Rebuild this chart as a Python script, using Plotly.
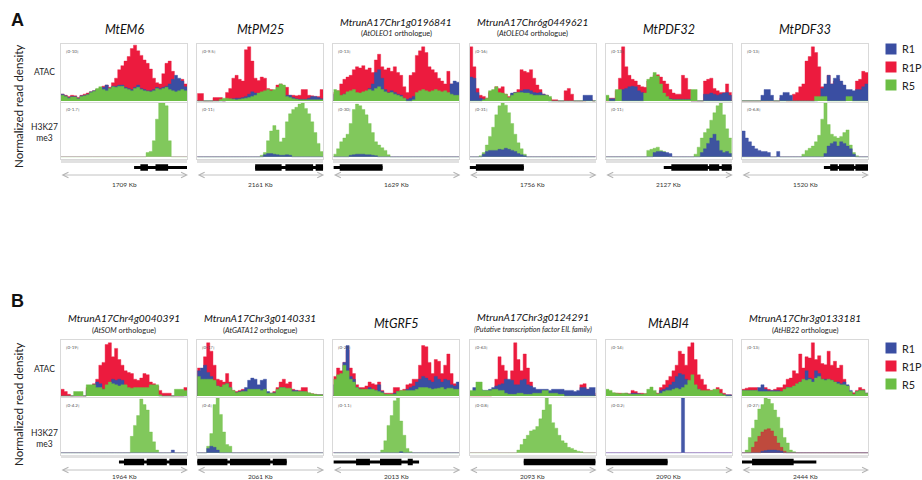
import plotly.graph_objects as go

# ---------------------------------------------------------------- data
LEGEND_LABELS = ["R1", "R1P", "R5"]
SERIES_COLORS = ["#3a4ea2", "#ec1b3e", "#6cbe45"]

TITLES = ["MtEM6", "MtPM25", "MtrunA17Chr1g0196841", "MtrunA17Chr6g0449621", "MtPDF32", "MtPDF33",
          "MtrunA17Chr4g0040391", "MtrunA17Chr3g0140331", "MtGRF5", "MtrunA17Chr3g0124291", "MtABI4",
          "MtrunA17Chr3g0133181"]
SUBTITLES = ["", "", "(<i>AtOLEO1</i> orthologue)", "(<i>AtOLEO4</i> orthologue)", "", "",
             "(<i>AtSOM</i> orthologue)", "(<i>AtGATA12</i> orthologue)", "",
             "<i>(Putative transcription factor EIL family)</i>", "", "(<i>AtHB22</i> orthologue)"]
SCALE_LABELS = ["1709 Kb", "2161 Kb", "1629 Kb", "1756 Kb", "2127 Kb", "1520 Kb",
                "1964 Kb", "2061 Kb", "2013 Kb", "2093 Kb", "2090 Kb", "2444 Kb"]
ATAC_RANGES = ["[0-10]", "[0-9.5]", "[0-13]", "[0-16]", "[0-13]", "[0-13]",
               "[0-19]", "[0-17]", "[0-22]", "[0-63]", "[0-14]", "[0-13]"]
H3_RANGES = ["[0-1.7]", "[0-11]", "[0-30]", "[0-31]", "[0-11]", "[0-6.8]",
             "[0-4.2]", "[0-4]", "[0-1.1]", "[0-0.8]", "[0-0.2]", "[0-27]"]

# ATAC signal (percent of track range), 40 bins across each window
A1_ATAC_R1P = [12,10,8,10,9,6,10,12,14,16, 18,20,22,26,28,24,32,40,55,62, 70,78,92,98,88,80,72,66,56,40, 32,30,48,66,70,52,36,34,38,30]
A1_ATAC_R1 = [12,9,6,8,8,5,9,10,12,16, 18,20,18,24,28,22,26,26,28,28, 24,22,20,24,28,22,20,18,18,20, 24,22,24,26,30,38,45,40,35,25]
A1_ATAC_R5 = [10,8,5,7,7,4,8,9,11,15, 17,22,25,20,18,22,25,24,26,26, 22,20,18,22,24,20,18,17,16,18, 22,20,22,24,20,18,16,18,20,18]

A2_ATAC_R1P = [13,13,0,0,0,6,6,6,0,15, 22,40,45,38,35,90,95,70,40,36, 42,40,22,20,18,28,30,25,24,10, 10,9,10,20,20,10,9,8,8,20]
A2_ATAC_R1 = [0,0,0,0,0,0,0,0,0,2, 3,4,5,5,6,8,12,16,14,8, 6,5,5,4,4,4,5,6,10,10, 6,4,3,3,3,5,8,8,6,4]
A2_ATAC_R5 = [0,0,0,0,0,0,0,3,5,5, 4,3,2,3,4,5,6,8,10,14, 16,18,20,18,20,24,30,28,8,6, 4,3,2,2,2,2,2,2,2,2]

A3_ATAC_R1P = [15,18,30,38,42,45,55,60,58,62, 55,58,50,72,82,60,55,58,52,60, 50,45,25,15,45,50,80,88,95,85, 60,55,50,40,35,30,52,30,22,20]
A3_ATAC_R1 = [12,10,8,12,14,15,12,10,12,14, 16,22,30,50,55,40,20,15,18,15, 12,10,5,3,5,8,10,12,14,12, 10,12,14,12,10,10,12,30,35,33]
A3_ATAC_R5 = [20,18,10,12,16,18,20,15,14,16, 18,20,18,22,25,20,16,14,15,12, 10,8,5,0,0,2,15,18,20,18, 16,18,20,18,16,18,15,12,10,10]

A4_ATAC_R1P = [95,60,22,10,8,5,15,18,25,22, 25,12,8,12,15,20,55,52,50,55, 40,28,20,12,10,5,2,2,0,0, 18,22,12,0,0,0,0,2,2,0]
A4_ATAC_R1 = [42,40,15,5,3,2,3,4,5,4, 5,6,5,14,15,15,18,20,20,18, 15,14,15,12,10,0,0,0,0,0, 0,0,0,0,0,0,10,10,10,0]
A4_ATAC_R5 = [0,0,0,0,2,5,18,20,25,15, 14,12,6,10,14,15,15,14,14,12, 10,10,10,10,10,8,0,0,0,0, 0,0,0,0,0,0,0,0,0,0]

A5_ATAC_R1P = [0,5,5,18,40,95,60,45,38,35, 28,25,24,35,40,45,46,42,35,30, 20,14,12,12,45,40,20,0,0,0, 0,35,38,40,22,18,15,15,30,15]
A5_ATAC_R1 = [3,4,4,2,18,20,22,25,26,25, 18,15,12,8,8,8,8,8,8,6, 4,3,3,3,3,3,3,0,0,0, 0,12,12,14,12,10,12,14,15,10]
A5_ATAC_R5 = [10,0,0,20,20,0,0,0,0,0, 0,0,14,38,42,50,44,30,14,8, 3,2,2,2,2,2,2,20,20,0, 0,0,0,0,0,0,0,0,0,0]

A6_ATAC_R1P = [0,0,0,0,0,0,0,0,0,0, 0,0,5,5,0,0,12,15,25,30, 70,78,95,85,60,25,25,45,30,35, 38,30,20,15,15,12,35,38,52,50]
A6_ATAC_R1 = [0,0,0,0,0,0,10,20,20,10, 0,0,10,15,15,10,0,0,0,0, 0,0,0,0,5,22,30,45,30,40, 45,35,28,20,20,18,20,20,25,30]
A6_ATAC_R5 = [0,0,0,0,0,0,0,0,0,0, 0,0,0,0,0,0,0,0,0,0, 0,0,0,8,8,8,8,0,0,0, 0,0,0,8,8,0,0,0,0,0]

B1_ATAC_R1P = [12,8,3,0,0,0,0,0,15,18, 22,30,55,60,92,95,70,85,65,55, 45,42,40,30,28,32,40,38,25,22, 18,10,5,5,5,0,0,0,0,15]
B1_ATAC_R1 = [0,0,0,0,0,0,0,0,10,15, 20,25,22,12,10,15,30,28,30,28, 15,8,6,5,5,5,5,5,5,5, 3,0,0,0,0,0,0,0,0,0]
B1_ATAC_R5 = [0,0,0,0,8,8,8,0,20,20, 20,15,15,12,20,25,22,20,18,20, 20,15,14,15,15,15,15,15,20,20, 20,2,0,0,0,0,12,12,12,10]

B2_ATAC_R1P = [50,42,70,95,80,55,30,28,25,40, 25,10,8,10,12,12,12,14,12,10, 10,12,6,5,8,15,25,30,22,25, 12,10,10,15,15,5,4,3,2,2]
B2_ATAC_R1 = [45,50,55,42,35,25,18,16,18,22, 15,8,6,8,10,15,28,32,30,20, 28,30,8,5,6,10,15,15,12,12, 10,10,8,8,6,4,3,2,2,2]
B2_ATAC_R5 = [35,30,30,30,30,28,18,16,20,22, 15,10,6,7,8,8,12,12,12,12, 10,12,5,5,5,12,15,15,14,14, 8,8,8,8,8,6,4,3,2,2]

B3_ATAC_R1P = [35,50,45,60,82,50,40,20,15,15, 18,25,22,20,25,10,5,5,5,15, 15,10,12,20,22,30,30,55,90,88, 60,40,65,62,40,55,75,40,22,20]
B3_ATAC_R1 = [20,25,35,60,90,35,30,15,12,10, 10,15,12,10,20,8,3,2,2,5, 8,8,8,12,15,18,25,30,35,32, 28,25,35,30,25,30,28,20,18,25]
B3_ATAC_R5 = [30,38,40,55,45,30,25,15,12,12, 12,12,12,10,8,6,3,3,3,3, 8,10,10,10,10,10,12,15,15,15, 14,12,13,14,15,12,14,14,12,12]

B4_ATAC_R1P = [0,0,0,0,0,0,0,10,30,70, 55,45,25,45,95,65,45,75,50,25, 10,5,5,5,5,5,3,3,3,3, 3,5,5,5,5,20,22,12,5,5]
B4_ATAC_R1 = [5,15,15,12,10,10,12,15,18,20, 22,30,30,28,20,20,28,30,20,18, 15,12,12,12,12,10,12,12,12,12, 10,10,10,8,10,15,15,12,15,15]
B4_ATAC_R5 = [10,10,25,25,10,10,10,12,12,10, 10,5,3,3,3,5,5,3,3,3, 5,5,5,10,10,5,5,5,3,3, 0,0,0,0,0,0,0,0,0,0]

B5_ATAC_R1P = [8,6,5,5,5,4,5,4,10,8, 5,5,4,5,8,6,5,15,20,28, 35,45,55,80,75,55,88,95,65,38, 30,20,12,10,10,15,12,5,2,2]
B5_ATAC_R1 = [5,4,4,3,3,3,4,3,5,5, 4,3,3,3,5,4,3,10,12,15, 20,25,35,40,38,30,22,20,18,12, 8,6,5,5,5,5,4,2,2,2]
B5_ATAC_R5 = [12,10,6,5,4,5,5,3,3,3, 3,3,4,12,16,10,4,5,8,10, 10,12,14,12,15,20,28,38,20,12, 10,10,10,10,12,12,5,2,0,0]

B6_ATAC_R1P = [12,14,15,15,15,10,10,15,12,10, 12,15,15,20,30,32,45,40,75,50, 70,68,95,65,72,58,56,80,55,62, 50,55,30,18,6,6,10,15,12,5]
B6_ATAC_R1 = [10,10,10,10,10,15,20,12,10,10, 10,10,8,8,15,15,15,20,25,28, 45,32,30,45,40,30,30,30,28,25, 25,22,25,20,10,3,8,10,10,5]
B6_ATAC_R5 = [10,10,10,10,10,8,8,8,8,8, 8,8,8,12,15,15,18,22,25,30, 28,30,25,32,35,30,28,30,28,25, 22,20,20,18,8,3,8,10,10,5]

# H3K27me3 signal (percent of track range)
A1_H3_R5 = [0,0,0,0,0,0,0,0,0,0, 0,0,0,0,0,0,0,0,0,0, 0,0,0,0,0,0,0,8,10,30, 70,100,100,95,30,0,0,0,0,0]
A1_H3_R1P = []
A1_H3_R1 = []
A2_H3_R5 = [0,0,0,0,0,0,0,0,0,0, 0,0,0,0,0,0,0,0,0,0, 3,8,30,48,58,50,28,35,65,80, 88,92,98,100,90,80,65,45,25,10]
A2_H3_R1P = []
A2_H3_R1 = [0,0,0,0,0,0,0,0,0,0, 0,0,0,0,0,0,0,0,0,0, 0,4,6,6,5,4,3,3,4,3, 0,0,0,0,0,0,0,0,0,0]
A3_H3_R5 = [5,15,28,35,42,62,88,98,95,88, 78,62,45,28,22,17,12,4,0,0, 0,0,0,0,0,0,0,0,0,0, 0,0,0,0,0,0,0,0,0,0]
A3_H3_R1P = []
A3_H3_R1 = [0,0,0,0,0,3,4,5,5,5, 4,4,3,2,0,0,0,0,0,0, 0,0,0,0,0,0,0,0,0,0, 0,0,0,0,0,0,0,0,0,0]
A4_H3_R5 = [0,0,0,2,8,22,38,55,78,95, 100,96,82,62,42,26,15,5,0,0, 0,0,0,0,0,0,0,0,0,0, 0,0,0,0,0,0,0,0,0,0]
A4_H3_R1P = []
A4_H3_R1 = [0,0,0,0,5,10,12,12,12,14, 13,16,14,12,10,6,4,2,0,0, 0,0,0,0,0,0,0,0,0,0, 0,0,0,0,0,0,0,0,0,0]
A5_H3_R5 = [0,0,0,0,0,0,0,0,0,0, 0,0,0,12,14,16,18,12,10,4, 0,0,0,0,0,0,0,0,5,18, 35,45,52,68,82,95,100,78,52,35]
A5_H3_R1P = []
A5_H3_R1 = [0,0,0,0,0,0,0,0,0,0, 0,0,0,0,0,8,10,10,9,8, 6,0,0,0,0,0,0,0,0,0, 8,15,25,35,42,30,12,8,10,6]
A6_H3_R5 = [0,0,0,0,0,0,0,0,0,0, 0,0,0,0,0,0,0,0,0,5, 12,16,20,28,40,70,100,60,42,38, 35,38,45,50,22,8,2,0,0,0]
A6_H3_R1P = []
A6_H3_R1 = [48,35,28,20,15,12,10,10,8,0, 0,10,0,0,0,0,0,0,0,0, 0,0,0,0,0,0,6,20,25,28, 20,28,25,20,15,5,0,0,0,0]

B1_H3_R5 = [0,0,0,0,0,0,0,0,0,0, 0,0,0,0,0,0,0,0,0,0, 0,0,30,50,68,98,88,78,38,20, 5,0,0,0,0,0,0,0,0,0]
B1_H3_R1P = []
B1_H3_R1 = [0,0,0,0,0,0,0,0,0,0, 0,0,0,0,0,0,0,0,0,0, 0,0,0,0,0,0,0,0,0,0, 0,0,0,0,0,5,0,0,0,0]
B2_H3_R5 = [0,0,0,12,35,88,100,70,38,15, 12,0,0,0,0,0,0,0,0,0, 0,0,0,0,0,0,0,0,0,0, 0,0,0,0,0,0,0,0,0,0]
B2_H3_R1P = []
B2_H3_R1 = [0,0,0,8,12,10,5,0,0,0, 0,0,0,0,0,0,0,0,0,0, 0,0,0,0,0,0,0,0,0,0, 0,0,0,0,0,0,0,0,0,0]
B3_H3_R5 = [0,0,0,0,0,0,0,0,0,0, 0,0,0,0,0,5,22,50,68,95, 100,58,32,8,2,0,0,0,0,0, 0,0,0,0,0,0,0,0,0,0]
B3_H3_R1P = []
B3_H3_R1 = [0,0,0,0,0,0,0,0,0,0, 0,0,0,0,0,0,0,0,0,0, 0,2,0,0,0,0,0,0,0,0, 0,0,0,0,0,0,0,0,0,0]
B4_H3_R5 = [0,0,0,0,0,0,0,0,0,0, 0,0,0,0,0,5,15,25,32,40, 42,48,62,78,100,88,55,45,32,22, 18,10,8,5,3,2,0,0,0,0]
B4_H3_R1P = []
B4_H3_R1 = []
B5_H3_R5 = []
B5_H3_R1P = []
B5_H3_R1 = [0,0,0,0,0,0,0,0,0,0, 0,0,0,0,0,0,0,0,0,0, 0,0,0,0,100,0,0,0,0,0, 0,0,0,0,0,0,0,0,0,0]
B6_H3_R5 = [0,5,28,45,60,80,88,100,98,90, 78,65,45,28,18,5,2,0,0,0, 0,0,0,0,0,0,0,0,0,0, 0,0,0,0,0,0,0,0,0,0]
B6_H3_R1P = [0,0,0,10,20,30,38,42,44,40, 30,18,10,3,0,0,0,0,0,0, 0,0,0,0,0,0,0,0,0,0, 0,0,0,0,0,0,0,0,0,0]
B6_H3_R1 = [0,0,0,0,0,0,3,4,5,5, 5,4,3,0,0,0,0,0,0,0, 0,0,0,0,0,0,0,0,0,0, 0,0,0,0,0,0,0,0,0,0]

# gene models (fraction of window): span and thick blocks
GENE_SPANS = [[0.58, 1.0], [0.46, 1.0], [0.0, 0.39], [0.0, 0.43], [0.46, 1.0], [0.65, 1.0],
              [0.46, 1.0], [0.0, 0.71], [0.0, 0.68], [0.43, 1.0], [0.0, 0.49], [0.0, 0.59]]
GENE_EXONS = [[[0.63, 0.69], [0.75, 0.85]],
              [[0.46, 0.67], [0.70, 0.92], [0.94, 1.0]],
              [[0.05, 0.39]],
              [[0.05, 0.43]],
              [[0.52, 0.81], [0.82, 0.90], [0.92, 1.0]],
              [[0.70, 0.76], [0.77, 0.89], [0.90, 1.0]],
              [[0.50, 0.66], [0.68, 0.84], [0.86, 1.0]],
              [[0.0, 0.24], [0.26, 0.58], [0.60, 0.71]],
              [[0.18, 0.29], [0.37, 0.54], [0.59, 0.63]],
              [[0.43, 1.0]],
              [[0.0, 0.49]],
              [[0.08, 0.41]]]

ATAC_TRACKS = [(A1_ATAC_R1, A1_ATAC_R1P, A1_ATAC_R5), (A2_ATAC_R1, A2_ATAC_R1P, A2_ATAC_R5),
               (A3_ATAC_R1, A3_ATAC_R1P, A3_ATAC_R5), (A4_ATAC_R1, A4_ATAC_R1P, A4_ATAC_R5),
               (A5_ATAC_R1, A5_ATAC_R1P, A5_ATAC_R5), (A6_ATAC_R1, A6_ATAC_R1P, A6_ATAC_R5),
               (B1_ATAC_R1, B1_ATAC_R1P, B1_ATAC_R5), (B2_ATAC_R1, B2_ATAC_R1P, B2_ATAC_R5),
               (B3_ATAC_R1, B3_ATAC_R1P, B3_ATAC_R5), (B4_ATAC_R1, B4_ATAC_R1P, B4_ATAC_R5),
               (B5_ATAC_R1, B5_ATAC_R1P, B5_ATAC_R5), (B6_ATAC_R1, B6_ATAC_R1P, B6_ATAC_R5)]
H3_TRACKS = [(A1_H3_R1, A1_H3_R1P, A1_H3_R5), (A2_H3_R1, A2_H3_R1P, A2_H3_R5),
             (A3_H3_R1, A3_H3_R1P, A3_H3_R5), (A4_H3_R1, A4_H3_R1P, A4_H3_R5),
             (A5_H3_R1, A5_H3_R1P, A5_H3_R5), (A6_H3_R1, A6_H3_R1P, A6_H3_R5),
             (B1_H3_R1, B1_H3_R1P, B1_H3_R5), (B2_H3_R1, B2_H3_R1P, B2_H3_R5),
             (B3_H3_R1, B3_H3_R1P, B3_H3_R5), (B4_H3_R1, B4_H3_R1P, B4_H3_R5),
             (B5_H3_R1, B5_H3_R1P, B5_H3_R5), (B6_H3_R1, B6_H3_R1P, B6_H3_R5)]

# ---------------------------------------------------------------- layout helpers
W, H = 922, 480
FONT = "Lato, 'Open Sans', sans-serif"
BOX = "#d9d9d9"


def fx(p):
    return p / W


def fy(p):
    return 1 - p / H


layout = dict(width=W, height=H, margin=dict(l=0, r=0, t=0, b=0),
              paper_bgcolor="white", plot_bgcolor="rgba(0,0,0,0)",
              showlegend=False, font=dict(family=FONT, color="#222"))
traces = []
annotations = []
counter = [0]


def new_axes(xdom, ydom, xopts, yopts):
    counter[0] += 1
    n = counter[0]
    s = "" if n == 1 else str(n)
    layout["xaxis" + s] = dict(domain=xdom, anchor="y" + s, **xopts)
    layout["yaxis" + s] = dict(domain=ydom, anchor="x" + s, **yopts)
    return "x" + s, "y" + s


def hidden(**kw):
    d = dict(showgrid=False, zeroline=False, showticklabels=False, ticks="", fixedrange=True)
    d.update(kw)
    return d


def area(xa, ya, vals, fillcolor, linecolor, shape):
    if not vals:
        return
    n = len(vals)
    xs = [0.0] + [(i + 0.5) / n for i in range(n)] + [1.0]
    ys = [vals[0]] + list(vals) + [vals[-1]]
    traces.append(go.Scatter(x=xs, y=ys, xaxis=xa, yaxis=ya, mode="lines", line_shape=shape,
                             fill="tozeroy", fillcolor=fillcolor,
                             line=dict(color=linecolor, width=0.4), hoverinfo="skip"))


ROWS = [dict(atac=(44, 102), h3=(103, 159), gene=(163, 172), arrow=175, kb=184),
        dict(atac=(340, 397), h3=(398, 455), gene=(458, 466), arrow=470, kb=476)]
TITLE_Y = [(29.5, None), (29.5, None), (22, 33.5), (22, 33.5), (29.5, None), (29.5, None),
           (318, 330), (318, 330), (323, None), (317, 329), (323, None), (318, 330)]
SUB_SIZE = [7.4, 7.4, 7.4, 7.4, 7.4, 7.4, 7.4, 7.4, 7.4, 7.2, 7.4, 7.4]

H3_FILLS = ["rgba(58,78,162,0.95)", "rgba(215,25,50,0.72)", "rgba(112,192,70,0.88)"]

for p in range(12):
    r, c = divmod(p, 6)
    row = ROWS[r]
    x0 = 61 + 136.2 * c
    x1 = x0 + 126
    xdom = [fx(x0), fx(x1)]

    # ATAC track
    xa, ya = new_axes(xdom, [fy(row["atac"][1]), fy(row["atac"][0])],
                      hidden(range=[0, 1], showline=True, mirror=True, linecolor=BOX, linewidth=1),
                      hidden(range=[-1.8, 100], showline=True, mirror=True, linecolor=BOX, linewidth=1,
                             zeroline=True, zerolinecolor="#9fd8bf", zerolinewidth=1.2))
    r1, r1p, r5 = ATAC_TRACKS[p]
    area(xa, ya, r1p, SERIES_COLORS[1], SERIES_COLORS[1], "hvh")
    area(xa, ya, r1, SERIES_COLORS[0], SERIES_COLORS[0], "hvh")
    area(xa, ya, r5, SERIES_COLORS[2], SERIES_COLORS[2], "hvh")
    annotations.append(dict(text=ATAC_RANGES[p], x=fx(x0 + 3), y=fy(row["atac"][0] + 2.5),
                            xref="paper", yref="paper", xanchor="left", yanchor="top",
                            showarrow=False, font=dict(size=4.5, color="#555")))

    # H3K27me3 track
    xa, ya = new_axes(xdom, [fy(row["h3"][1]), fy(row["h3"][0])],
                      hidden(range=[0, 1], showline=True, mirror=True, linecolor=BOX, linewidth=1),
                      hidden(range=[-4, 100], showline=True, mirror=True, linecolor=BOX, linewidth=1,
                             zeroline=True, zerolinecolor="#e2bfe0", zerolinewidth=1.2))
    r1, r1p, r5 = H3_TRACKS[p]
    area(xa, ya, r5, H3_FILLS[2], "rgba(112,192,70,0.9)", "hvh")
    area(xa, ya, r1p, H3_FILLS[1], "rgba(215,25,50,0.8)", "hvh")
    area(xa, ya, r1, H3_FILLS[0], SERIES_COLORS[0], "hvh")
    annotations.append(dict(text=H3_RANGES[p], x=fx(x0 + 3), y=fy(row["h3"][0] + 2.5),
                            xref="paper", yref="paper", xanchor="left", yanchor="top",
                            showarrow=False, font=dict(size=4.5, color="#555")))

    # gene model track
    xa, ya = new_axes(xdom, [fy(row["gene"][1]), fy(row["gene"][0])],
                      hidden(range=[0, 1], showline=True, side="top", linecolor="#e1e1e1", linewidth=3),
                      hidden(range=[-1, 1]))
    s, e = GENE_SPANS[p]
    traces.append(go.Scatter(x=[s, e], y=[0, 0], xaxis=xa, yaxis=ya, mode="lines",
                             line=dict(color="black", width=3), hoverinfo="skip"))
    ex, ey = [], []
    for a, b in GENE_EXONS[p]:
        ex += [a, b, None]
        ey += [0, 0, None]
    traces.append(go.Scatter(x=ex, y=ey, xaxis=xa, yaxis=ya, mode="lines",
                             line=dict(color="black", width=6.5), hoverinfo="skip"))

    # titles
    cx = (x0 + x1) / 2
    ty, sy = TITLE_Y[p]
    tsize = 12.5 if len(TITLES[p]) < 10 else 10.2
    annotations.append(dict(text="<i>%s</i>" % TITLES[p], x=fx(cx), y=fy(ty), xref="paper", yref="paper",
                            xanchor="center", yanchor="middle", showarrow=False,
                            font=dict(size=tsize, color="#111")))
    if SUBTITLES[p]:
        annotations.append(dict(text=SUBTITLES[p], x=fx(cx), y=fy(sy), xref="paper", yref="paper",
                                xanchor="center", yanchor="middle", showarrow=False,
                                font=dict(size=SUB_SIZE[p], color="#222")))

    # scale arrow + label
    annotations.append(dict(text="", x=fx(x1 + 1), y=fy(row["arrow"]), xref="paper", yref="paper",
                            ax=-(x1 - x0 + 2), ay=0, axref="pixel", ayref="pixel", showarrow=True,
                            arrowside="end+start", arrowhead=5, startarrowhead=5,
                            arrowsize=1.4, startarrowsize=1.4, arrowwidth=0.8, arrowcolor="#b3b3b3",
                            standoff=0, startstandoff=0))
    annotations.append(dict(text=SCALE_LABELS[p], x=fx(cx), y=fy(row["kb"]), xref="paper", yref="paper",
                            xanchor="center", yanchor="middle", showarrow=False,
                            font=dict(size=6.5, color="#333")))

# legends (one per panel row): swatches through a category axis, labels as text
for top in (40, 339):
    xa, ya = new_axes([fx(885), fx(897)], [fy(top + 54), fy(top)],
                      hidden(range=[-0.5, 0.5], visible=False),
                      hidden(type="category", range=[2.5, -0.5], visible=False))
    traces.append(go.Scatter(x=[0, 0, 0], y=LEGEND_LABELS, xaxis=xa, yaxis=ya, mode="markers",
                             marker=dict(symbol="square", size=11, color=SERIES_COLORS, line=dict(width=0)),
                             cliponaxis=False, hoverinfo="skip"))
    for i, lab in enumerate(LEGEND_LABELS):
        annotations.append(dict(text=lab, x=fx(900), y=fy(top + 9 + 18 * i), xref="paper", yref="paper",
                                xanchor="left", yanchor="middle", showarrow=False,
                                font=dict(size=10.8, color="#222")))

# side labels
for letter, ly, yc, atac_y, h3_y in (("A", 20, 107, 72, 132), ("B", 301, 405, 369, 438)):
    annotations.append(dict(text="<b>%s</b>" % letter, x=fx(17), y=fy(ly), xref="paper", yref="paper",
                            xanchor="center", yanchor="middle", showarrow=False,
                            font=dict(size=18, family="Liberation Sans, Arial, sans-serif", color="#111")))
    annotations.append(dict(text="Normalized read density", x=fx(18), y=fy(yc), xref="paper", yref="paper",
                            xanchor="center", yanchor="middle", textangle=-90, showarrow=False,
                            font=dict(size=11.6, color="#222")))
    annotations.append(dict(text="ATAC", x=fx(44), y=fy(atac_y), xref="paper", yref="paper",
                            xanchor="center", yanchor="middle", showarrow=False,
                            font=dict(size=8.5, color="#222")))
    annotations.append(dict(text="H3K27<br>me3", x=fx(44), y=fy(h3_y), xref="paper", yref="paper",
                            xanchor="center", yanchor="middle", showarrow=False,
                            font=dict(size=8.5, color="#222")))

layout["annotations"] = annotations
fig = go.Figure(data=traces, layout=layout)
fig.write_html("out.html", config={"displayModeBar": False},
               post_script="document.body.style.margin='0';document.body.style.padding='0';")
